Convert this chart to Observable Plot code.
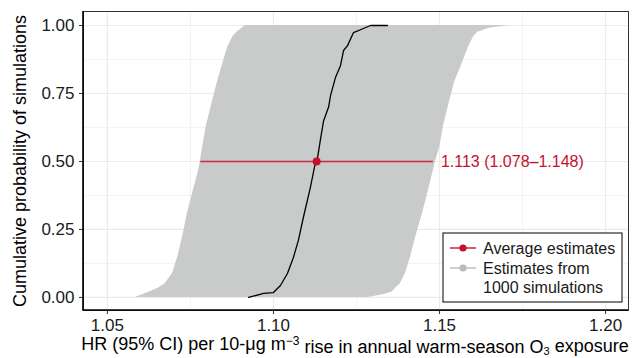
<!DOCTYPE html>
<html>
<head>
<meta charset="utf-8">
<script src="https://cdn.jsdelivr.net/npm/d3@7"></script>
<script src="https://cdn.jsdelivr.net/npm/@observablehq/plot@0.6"></script>
<style>
  html, body { margin: 0; padding: 0; background: #fff; }
  #chart { width: 632px; height: 358px; }
</style>
</head>
<body>
<div id="chart"></div>
<script>
// Cumulative probability levels of the 1000 simulations
const probLevels = [0, 0.01, 0.02, 0.035, 0.05, 0.09, 0.15, 0.22, 0.31, 0.38, 0.47, 0.5, 0.55, 0.63, 0.72, 0.79, 0.85, 0.92, 0.96, 0.975, 0.99, 1.0];
// Lower and upper 95% CI bounds of simulations at each level
const simLower = [1.0584, 1.0605, 1.0627, 1.0654, 1.0674, 1.0697, 1.0712, 1.0726, 1.0741, 1.0756, 1.0775, 1.0780, 1.0786, 1.0798, 1.0816, 1.0831, 1.0845, 1.0862, 1.0878, 1.0890, 1.0905, 1.0916];
const simUpper = [1.1285, 1.1331, 1.1358, 1.1368, 1.1382, 1.1398, 1.1413, 1.1428, 1.1449, 1.1464, 1.1482, 1.1488, 1.1500, 1.1512, 1.1530, 1.1545, 1.1565, 1.1587, 1.1603, 1.1615, 1.1650, 1.1708];
// Point estimates (cumulative curve)
const estProb = [0, 0.015, 0.018, 0.044, 0.088, 0.147, 0.21, 0.294, 0.404, 0.5, 0.515, 0.585, 0.65, 0.70, 0.743, 0.81, 0.853, 0.908, 0.926, 0.974, 0.989, 1.0, 1.0];
const estHR   = [1.0925, 1.0970, 1.1000, 1.1021, 1.1042, 1.1060, 1.1075, 1.1090, 1.1111, 1.1127, 1.1133, 1.1142, 1.1151, 1.1166, 1.1172, 1.1187, 1.1202, 1.1211, 1.1223, 1.1241, 1.1271, 1.1292, 1.1343];
// Average estimate
const avgHR = 1.113, avgLo = 1.078, avgHi = 1.148, avgProb = 0.5;
const avgLabel = "1.113 (1.078–1.148)";
// Ticks
const xTicks = [1.05, 1.10, 1.15, 1.20];
const xMinor = [1.075, 1.125, 1.175];
const yTicks = [0, 0.25, 0.5, 0.75, 1.0];
const yMinor = [0.125, 0.375, 0.625, 0.875];
const legendLabels = ["Average estimates", "Estimates from", "1000 simulations"];
const yTitle = "Cumulative probability of simulations";

const RED = "#c8102e";
const GRAY = "#c9caca";
const FONT = "'Liberation Sans', Arial, sans-serif";

const simTable = probLevels.map((p, i) => ({p, lo: simLower[i], hi: simUpper[i]}));
const estTable = estProb.map((p, i) => ({p, hr: estHR[i]}));

const plot = Plot.plot({
  width: 632,
  height: 358,
  marginLeft: 83,
  marginRight: 4,
  marginTop: 11,
  marginBottom: 48,
  style: {fontFamily: FONT, fontSize: "17px", color: "#1a1a1a", background: "#fff"},
  x: {domain: [1.0428, 1.2069]},
  y: {domain: [-0.048, 1.0515]},
  marks: [
    Plot.gridX(xMinor, {stroke: "#ebebeb", strokeOpacity: 1, strokeWidth: 0.6}),
    Plot.gridY(yMinor, {stroke: "#ebebeb", strokeOpacity: 1, strokeWidth: 0.6}),
    Plot.gridX(xTicks, {stroke: "#ebebeb", strokeOpacity: 1, strokeWidth: 1.2}),
    Plot.gridY(yTicks, {stroke: "#ebebeb", strokeOpacity: 1, strokeWidth: 1.2}),
    Plot.areaX(simTable, {y: "p", x1: "lo", x2: "hi", fill: GRAY}),
    Plot.line(estTable, {x: "hr", y: "p", stroke: "#000", strokeWidth: 1.3}),
    Plot.link([{y: avgProb}], {x1: () => avgLo, x2: () => avgHi, y1: "y", y2: "y", stroke: RED, strokeOpacity: 0.85, strokeWidth: 1.6}),
    Plot.dot([{x: avgHR, y: avgProb}], {x: "x", y: "y", r: 4, fill: RED}),
    Plot.text([{x: avgHi, y: avgProb}], {x: "x", y: "y", text: () => avgLabel, fill: RED, textAnchor: "start", dx: 8, fontSize: 16}),
    Plot.axisX({ticks: xTicks, tickFormat: d3.format(".2f"), tickSize: 4, tickPadding: 4, stroke: "#333", label: null, fontSize: 17}),
    Plot.axisY({ticks: yTicks, tickFormat: d3.format(".2f"), tickSize: 4, tickPadding: 5, stroke: "#333", label: null, fontSize: 17}),
    Plot.frame({stroke: "#333", strokeWidth: 1}),
    Plot.text([yTitle], {frameAnchor: "left", rotate: -90, dx: -63, text: d => d, fontSize: 18, fill: "#000", textAnchor: "middle", lineAnchor: "middle"}),
    Plot.text(["__xtitle__"], {frameAnchor: "bottom", dy: 34, dx: -1, text: d => d, fontSize: 18, fill: "#000", textAnchor: "middle", lineAnchor: "middle"})
  ]
});

document.getElementById("chart").appendChild(plot);
const svg = d3.select(plot);

// Axis lines (left and bottom) darker like the reference
svg.append("line").attr("x1", 83).attr("x2", 83).attr("y1", 11).attr("y2", 310).attr("stroke", "#000").attr("stroke-width", 1.6);
svg.append("line").attr("x1", 82.2).attr("x2", 628).attr("y1", 310).attr("y2", 310).attr("stroke", "#000").attr("stroke-width", 1.6);

// x-axis title with superscript and subscript
const xt = svg.selectAll("text").filter(function() { return this.textContent === "__xtitle__"; });
xt.text(null);
xt.append("tspan").text("HR (95% CI) per 10-μg m");
xt.append("tspan").attr("dy", "-0.45em").attr("font-size", "12px").text("−3");
xt.append("tspan").attr("dy", "0.45em").text(" rise in annual warm-season O");
xt.append("tspan").attr("dy", "0.15em").attr("font-size", "11px").text("3");
xt.append("tspan").attr("dy", "-0.15em").text(" exposure");

// Legend
const lg = svg.append("g").attr("font-family", FONT).attr("font-size", 16).attr("fill", "#1a1a1a").attr("text-anchor", "start");
lg.append("rect").attr("x", 443).attr("y", 233).attr("width", 179).attr("height", 69).attr("fill", "#fff").attr("stroke", "#000").attr("stroke-width", 1);
lg.append("line").attr("x1", 450).attr("x2", 476).attr("y1", 248).attr("y2", 248).attr("stroke", RED).attr("stroke-width", 1.4);
lg.append("circle").attr("cx", 463).attr("cy", 248).attr("r", 3.6).attr("fill", RED);
lg.append("line").attr("x1", 450).attr("x2", 476).attr("y1", 268).attr("y2", 268).attr("stroke", "#bbb").attr("stroke-width", 1.4);
lg.append("circle").attr("cx", 463).attr("cy", 268).attr("r", 3.6).attr("fill", "#bbb");
lg.append("text").attr("x", 483).attr("y", 248).attr("dy", "0.35em").text(legendLabels[0]);
lg.append("text").attr("x", 483).attr("y", 268).attr("dy", "0.35em").text(legendLabels[1]);
lg.append("text").attr("x", 483).attr("y", 287).attr("dy", "0.35em").text(legendLabels[2]);
</script>
</body>
</html>
